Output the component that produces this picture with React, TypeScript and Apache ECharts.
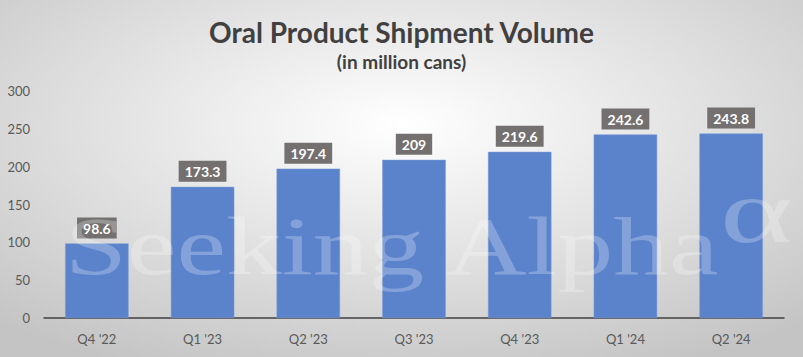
import React, { useEffect, useRef } from "react";
import * as echarts from "echarts";

const categories = ["Q4 '22", "Q1 '23", "Q2 '23", "Q3 '23", "Q4 '23", "Q1 '24", "Q2 '24"];
const shipments = [98.6, 173.3, 197.4, 209, 219.6, 242.6, 243.8];
const titleText = "Oral Product Shipment Volume";
const subtitleText = "(in million cans)";
const watermark = "Seeking Alpha";

export default function App() {
  const ref = useRef<HTMLDivElement>(null);
  useEffect(() => {
    if (!ref.current) return;
    const chart = echarts.init(ref.current, null, { renderer: "svg" });
    chart.setOption({
      animation: false,
      backgroundColor: {
        type: "radial",
        x: 0.5,
        y: 0.35,
        r: 0.75,
        colorStops: [
          { offset: 0, color: "#ffffff" },
          { offset: 1, color: "#c4c4c4" },
        ],
      },
      title: [
        {
          text: titleText,
          left: "center",
          top: 13,
          textStyle: { fontFamily: "Lato", fontWeight: "bold", fontSize: 28, color: "#404040" },
        },
        {
          text: subtitleText,
          left: "center",
          top: 47,
          textStyle: { fontFamily: "Lato", fontWeight: "bold", fontSize: 19, color: "#404040" },
        },
      ],
      graphic: [
        {
          type: "text",
          x: 65,
          y: 205,
          scaleX: 1.36,
          z: 10,
          silent: true,
          style: {
            text: watermark,
            font: "82px 'Liberation Serif'",
            fill: "rgba(255,255,255,0.25)",
            verticalAlign: "top",
          },
        },
        {
          type: "text",
          x: 720,
          y: 166,
          scaleX: 1.55,
          z: 10,
          silent: true,
          style: {
            text: "α",
            font: "90px 'Liberation Serif'",
            fill: "rgba(255,255,255,0.25)",
            verticalAlign: "top",
          },
        },
      ],
      grid: { left: 44, right: 19, top: 91, bottom: 39, containLabel: false },
      xAxis: {
        type: "category",
        data: categories,
        axisLine: { lineStyle: { color: "#404040", width: 1.5 } },
        axisTick: { show: false },
        axisLabel: { fontFamily: "Lato", fontSize: 13, color: "#595959", margin: 14 },
      },
      yAxis: {
        type: "value",
        min: 0,
        max: 300,
        interval: 50,
        splitLine: { show: false },
        axisLine: { show: false },
        axisTick: { show: false },
        axisLabel: { fontFamily: "Lato", fontSize: 13, color: "#595959", margin: 14 },
      },
      series: [
        {
          type: "bar",
          data: shipments,
          barWidth: "60%",
          itemStyle: { color: "#5b83cc", borderColor: "#7b9ad8", borderWidth: 0.5 },
          label: {
            show: true,
            position: "top",
            distance: 5,
            fontFamily: "Lato",
            fontWeight: "bold",
            fontSize: 14,
            color: "#ffffff",
            backgroundColor: "#747070",
            padding: [4, 6, 3, 6],
          },
        },
      ],
    });
    return () => chart.dispose();
  }, []);
  return <div ref={ref} style={{ width: 803, height: 357, position: "absolute", left: 0, top: 0 }} />;
}
